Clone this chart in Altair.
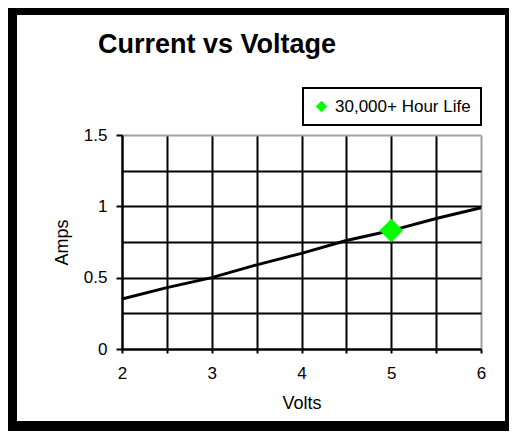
import altair as alt
import pandas as pd

volts = [2, 2.5, 3, 3.5, 4, 4.5, 5, 5.5, 6]
amps = [0.35, 0.43, 0.50, 0.59, 0.67, 0.76, 0.83, 0.915, 0.99]

marker_volts = [5]
marker_amps = [0.83]
marker_label = ["30,000+ Hour Life"]

x_grid = [2, 2.5, 3, 3.5, 4, 4.5, 5, 5.5, 6]
y_grid = [0, 0.25, 0.5, 0.75, 1, 1.25, 1.5]

FONT = "Liberation Sans"

line_df = pd.DataFrame({"Volts": volts, "Amps": amps})
mark_df = pd.DataFrame({"Volts": marker_volts, "Amps": marker_amps, "series": marker_label})
one = pd.DataFrame({"a": [0]})

x_axis = alt.Axis(
    values=x_grid,
    labelExpr="datum.value % 1 == 0 ? '' + datum.value : ''",
    title="Volts",
    grid=True,
    gridColor={"condition": {"test": "datum.value == 6", "value": "#a0a0a0"}, "value": "black"},
    gridWidth=2,
    domainColor="black",
    domainWidth=2,
    tickColor="black",
    tickWidth=2,
    tickSize=4,
    labelFont=FONT,
    labelFontSize=17,
    labelColor="black",
    labelPadding=12,
    titleFont=FONT,
    titleFontSize=18,
    titleFontWeight="normal",
    titleColor="black",
    titlePadding=13,
    labelFlush=False,
)
y_axis = alt.Axis(
    values=y_grid,
    labelExpr="datum.value % 0.5 == 0 ? '' + datum.value : ''",
    title="Amps",
    grid=True,
    gridColor={"condition": {"test": "datum.value == 1.5", "value": "#a0a0a0"}, "value": "black"},
    gridWidth=2,
    domainColor="black",
    domainWidth=2,
    tickColor={"condition": {"test": "datum.value % 0.5 != 0", "value": "transparent"}, "value": "black"},
    tickWidth=2,
    tickSize=6,
    labelFont=FONT,
    labelFontSize=17,
    labelColor="black",
    labelPadding=9,
    titleFont=FONT,
    titleFontSize=18,
    titleFontWeight="normal",
    titleColor="black",
    titlePadding=12,
    labelFlush=False,
)

xs = alt.Scale(domain=[2, 6], nice=False, zero=False)
ys = alt.Scale(domain=[0, 1.5], nice=False)

line = alt.Chart(line_df).mark_line(color="black", strokeWidth=3).encode(
    x=alt.X("Volts:Q", scale=xs, axis=x_axis),
    y=alt.Y("Amps:Q", scale=ys, axis=y_axis),
)

diamond = alt.Chart(mark_df).mark_point(shape="diamond", filled=True, size=550, opacity=1).encode(
    x=alt.X("Volts:Q", scale=xs, axis=x_axis),
    y=alt.Y("Amps:Q", scale=ys, axis=y_axis),
    color=alt.Color(
        "series:N",
        scale=alt.Scale(range=["#00ff00"]),
        legend=alt.Legend(
            title=None,
            orient="none",
            legendX=181,
            legendY=-47,
            symbolType="diamond",
            symbolSize=130,
            labelFont=FONT,
            labelFontSize=17,
            labelColor="black",
            strokeColor="black",
            fillColor="white",
            padding=10,
            labelOffset=5,
        ),
    ),
)

def band(x1, x2, y1, y2):
    return alt.Chart(one).mark_rect(color="black").encode(
        x=alt.value(x1), x2=alt.value(x2), y=alt.value(y1), y2=alt.value(y2)
    )

frame = [
    band(-114, -105, -127, 296),
    band(-114, 387, -127, -120),
    band(383, 387, -127, 296),
    band(-114, 387, 286, 296),
]

chart = alt.layer(*frame, line, diamond).properties(
    width=359,
    height=214,
    background="white",
    padding={"left": 114, "top": 127, "right": 28, "bottom": 82},
    autosize=alt.AutoSizeParams(type="none"),
    title=alt.TitleParams(
        "Current vs Voltage",
        anchor="start",
        frame="group",
        dx=-24,
        dy=51,
        font=FONT,
        fontSize=27,
        fontWeight="bold",
        color="black",
        offset=0,
    ),
).configure_view(stroke=None).configure_legend(strokeWidth=2, cornerRadius=0)

chart.save("out.html", embed_options={"renderer": "svg", "actions": False})
